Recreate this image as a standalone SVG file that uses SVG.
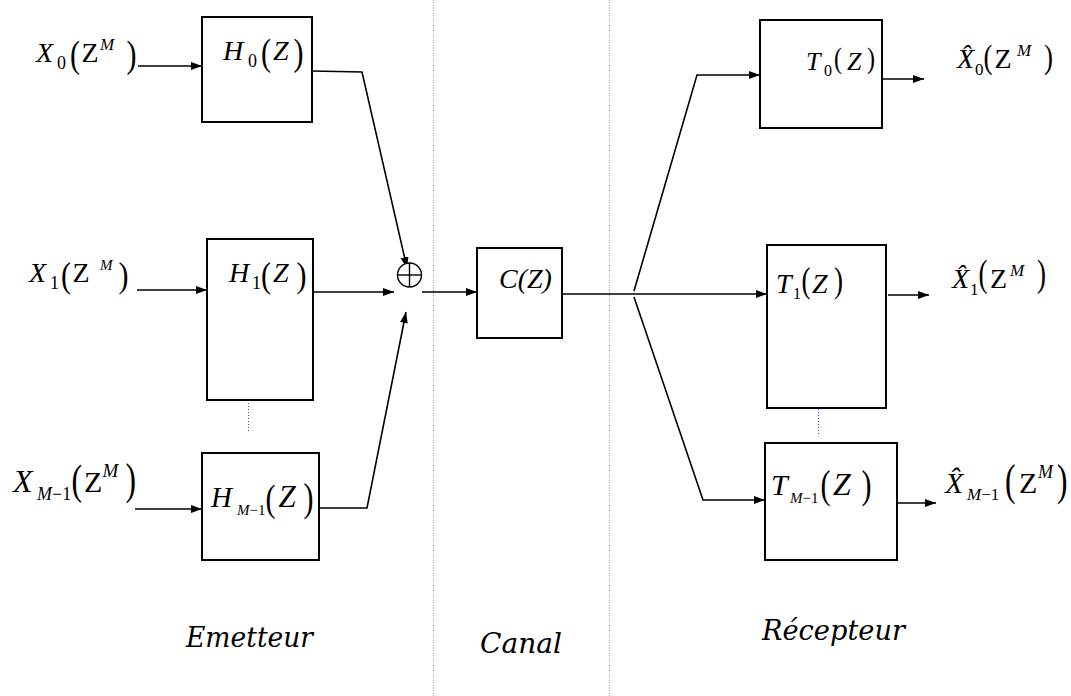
<svg xmlns="http://www.w3.org/2000/svg" width="1071" height="696" viewBox="0 0 1071 696">
  <defs>
    <marker id="arrow" markerWidth="12" markerHeight="9" refX="11" refY="4" orient="auto" markerUnits="userSpaceOnUse">
      <path d="M0,0 L11,4 L0,8 z" fill="#000"/>
    </marker>
    <style>
      .box { fill: #fff; stroke: #000; stroke-width: 2; }
      .wire { fill: none; stroke: #000; stroke-width: 1.6; }
      .arr { marker-end: url(#arrow); }
      .sep { stroke: #999; stroke-width: 1; stroke-dasharray: 1 1.5; }
      .dots { stroke: #3344ee; stroke-width: 1; stroke-dasharray: 1 2; }
      text { font-family: "Liberation Serif", "Times New Roman", serif; fill: #000; }
      .i { font-style: italic; }
      .cap { font-family: "DejaVu Serif", "Liberation Serif", serif; font-style: italic; font-size: 27px; }
    </style>
  </defs>

  <!-- section separators -->
  <g id="separators">
    <line class="sep" x1="433.5" y1="0" x2="433.5" y2="696"/>
    <line class="sep" x1="609.5" y1="0" x2="609.5" y2="696"/>
    <line class="dots" x1="248.5" y1="355" x2="248.5" y2="433"/>
    <line class="dots" x1="818.5" y1="355" x2="818.5" y2="435"/>
  </g>

  <!-- connectors -->
  <g id="connectors">
    <line class="wire arr" x1="138" y1="66" x2="202" y2="66"/>
    <polyline class="wire arr" points="312,71 362,72 407,268"/>
    <line class="wire arr" x1="137" y1="290" x2="207" y2="290"/>
    <line class="wire arr" x1="313" y1="292" x2="394" y2="292"/>
    <line class="wire arr" x1="135" y1="509" x2="202" y2="509"/>
    <polyline class="wire arr" points="319,508 367,508 406,312"/>
    <line class="wire arr" x1="422" y1="292" x2="477" y2="292"/>
    <line class="wire arr" x1="562" y1="294" x2="767" y2="294"/>
    <polyline class="wire arr" points="634,291 697,75 760,75"/>
    <polyline class="wire arr" points="634,297 703,500 765,500"/>
    <line class="wire arr" x1="882" y1="79" x2="924" y2="79"/>
    <line class="wire arr" x1="888" y1="295" x2="929" y2="295"/>
    <line class="wire arr" x1="897" y1="503" x2="936" y2="503"/>
  </g>

  <!-- summing junction -->
  <g id="sum">
    <circle cx="409.5" cy="275" r="12" fill="#fff" stroke="#000" stroke-width="1.4"/>
    <line x1="397.5" y1="275" x2="421.5" y2="275" stroke="#000" stroke-width="1.4"/>
    <line x1="409.5" y1="263" x2="409.5" y2="287" stroke="#000" stroke-width="1.4"/>
  </g>

  <!-- input signals; tall parentheses are squeezed with textLength -->
  <g id="in0">
    <text font-size="28"><tspan class="i" x="36" y="62">X</tspan><tspan font-size="18" x="57" y="69">0</tspan><tspan font-size="38" x="70" y="67" textLength="10" lengthAdjust="spacingAndGlyphs">(</tspan><tspan x="81.5" y="62">Z</tspan><tspan class="i" font-size="17" x="100" y="50">M</tspan><tspan font-size="38" x="126.6" y="67" textLength="10" lengthAdjust="spacingAndGlyphs">)</tspan></text>
  </g>
  <g id="in1">
    <text font-size="28"><tspan class="i" x="29" y="282">X</tspan><tspan font-size="18" x="50" y="289">1</tspan><tspan font-size="36" x="61" y="287" textLength="10" lengthAdjust="spacingAndGlyphs">(</tspan><tspan x="72.5" y="282">Z</tspan><tspan class="i" font-size="15" x="100" y="270">M</tspan><tspan font-size="36" x="118.6" y="287" textLength="10" lengthAdjust="spacingAndGlyphs">)</tspan></text>
  </g>
  <g id="inM1">
    <text font-size="32"><tspan class="i" x="13" y="492">X</tspan><tspan class="i" font-size="18" x="37" y="500">M</tspan><tspan font-size="18">−1</tspan><tspan font-size="42" x="71.5" y="494" textLength="10.5" lengthAdjust="spacingAndGlyphs">(</tspan><tspan font-size="30" x="84" y="492">Z</tspan><tspan class="i" font-size="19" x="102.5" y="477">M</tspan><tspan font-size="44" x="125.5" y="494" textLength="10.5" lengthAdjust="spacingAndGlyphs">)</tspan></text>
  </g>

  <!-- transmitter filters -->
  <g id="H0">
    <rect class="box" x="202" y="17" width="110" height="105"/>
    <text font-size="28"><tspan class="i" x="223" y="60">H</tspan><tspan font-size="18" x="248" y="67">0</tspan><tspan font-size="38" x="261" y="65" textLength="10" lengthAdjust="spacingAndGlyphs">(</tspan><tspan class="i" x="273" y="60">Z</tspan><tspan font-size="38" x="293.6" y="65" textLength="10" lengthAdjust="spacingAndGlyphs">)</tspan></text>
  </g>
  <g id="H1">
    <rect class="box" x="207" y="239" width="106" height="161"/>
    <text font-size="28"><tspan class="i" x="229" y="282">H</tspan><tspan font-size="18" x="252" y="289">1</tspan><tspan font-size="36" x="261" y="287" textLength="10" lengthAdjust="spacingAndGlyphs">(</tspan><tspan class="i" x="273" y="282">Z</tspan><tspan font-size="36" x="296.6" y="287" textLength="10" lengthAdjust="spacingAndGlyphs">)</tspan></text>
  </g>
  <g id="HM1">
    <rect class="box" x="202" y="453" width="117" height="107"/>
    <text font-size="29"><tspan class="i" x="211" y="507">H</tspan><tspan class="i" font-size="15" x="237" y="515">M</tspan><tspan font-size="15">−1</tspan><tspan font-size="38" x="265.5" y="511" textLength="10" lengthAdjust="spacingAndGlyphs">(</tspan><tspan class="i" font-size="31" x="278.5" y="507">Z</tspan><tspan font-size="40" x="303.6" y="511" textLength="10" lengthAdjust="spacingAndGlyphs">)</tspan></text>
  </g>

  <!-- channel -->
  <g id="C">
    <rect class="box" x="477" y="248" width="85" height="90"/>
    <text class="i" font-size="28" x="499" y="288">C(Z)</text>
  </g>

  <!-- receiver filters -->
  <g id="T0">
    <rect class="box" x="760" y="20" width="122" height="108"/>
    <text font-size="26"><tspan class="i" x="806" y="70">T</tspan><tspan font-size="16" x="824" y="76">0</tspan><tspan font-size="30" x="834" y="68" textLength="8" lengthAdjust="spacingAndGlyphs">(</tspan><tspan class="i" x="847" y="70">Z</tspan><tspan font-size="30" x="867" y="68" textLength="8" lengthAdjust="spacingAndGlyphs">)</tspan></text>
  </g>
  <g id="T1">
    <rect class="box" x="767" y="245" width="119" height="163"/>
    <text font-size="28"><tspan class="i" x="776" y="293">T</tspan><tspan font-size="16" x="793" y="299">1</tspan><tspan font-size="36" x="801.5" y="292" textLength="9" lengthAdjust="spacingAndGlyphs">(</tspan><tspan class="i" x="812" y="293">Z</tspan><tspan font-size="36" x="834" y="292" textLength="9" lengthAdjust="spacingAndGlyphs">)</tspan></text>
  </g>
  <g id="TM1">
    <rect class="box" x="765" y="443" width="132" height="117"/>
    <text font-size="30"><tspan class="i" x="771" y="495">T</tspan><tspan class="i" font-size="15" x="790" y="503">M</tspan><tspan font-size="15">−1</tspan><tspan font-size="41" x="820.6" y="498" textLength="10" lengthAdjust="spacingAndGlyphs">(</tspan><tspan class="i" font-size="32" x="833" y="495">Z</tspan><tspan font-size="41" x="861.6" y="498" textLength="10" lengthAdjust="spacingAndGlyphs">)</tspan></text>
  </g>

  <!-- output estimates (X with circumflex accent) -->
  <g id="out0">
    <text font-size="28"><tspan class="i" x="957" y="68">X̂</tspan><tspan font-size="17" x="975" y="75">0</tspan><tspan font-size="34" x="983.5" y="68" textLength="9" lengthAdjust="spacingAndGlyphs">(</tspan><tspan x="994.5" y="68">Z</tspan><tspan class="i" font-size="17" x="1017" y="56">M</tspan><tspan font-size="34" x="1044" y="68" textLength="9" lengthAdjust="spacingAndGlyphs">)</tspan></text>
  </g>
  <g id="out1">
    <text font-size="28"><tspan class="i" x="952" y="288">X̂</tspan><tspan font-size="17" x="970" y="295">1</tspan><tspan font-size="38" x="978.5" y="286" textLength="9" lengthAdjust="spacingAndGlyphs">(</tspan><tspan x="990" y="288">Z</tspan><tspan class="i" font-size="17" x="1010" y="276">M</tspan><tspan font-size="38" x="1037" y="286" textLength="9" lengthAdjust="spacingAndGlyphs">)</tspan></text>
  </g>
  <g id="outM1">
    <text font-size="30"><tspan class="i" x="945" y="493">X̂</tspan><tspan class="i" font-size="17" x="967" y="500">M</tspan><tspan font-size="17">−1</tspan><tspan font-size="44" x="1005" y="495" textLength="10.5" lengthAdjust="spacingAndGlyphs">(</tspan><tspan x="1019" y="493">Z</tspan><tspan class="i" font-size="18" x="1038" y="478">M</tspan><tspan font-size="44" x="1057" y="495" textLength="10.5" lengthAdjust="spacingAndGlyphs">)</tspan></text>
  </g>

  <!-- section captions -->
  <g id="captions">
    <text class="cap" x="186" y="647" textLength="127" lengthAdjust="spacingAndGlyphs">Emetteur</text>
    <text class="cap" x="480" y="653" textLength="82" lengthAdjust="spacingAndGlyphs">Canal</text>
    <text class="cap" x="762" y="640" textLength="143" lengthAdjust="spacingAndGlyphs">Récepteur</text>
  </g>
</svg>
